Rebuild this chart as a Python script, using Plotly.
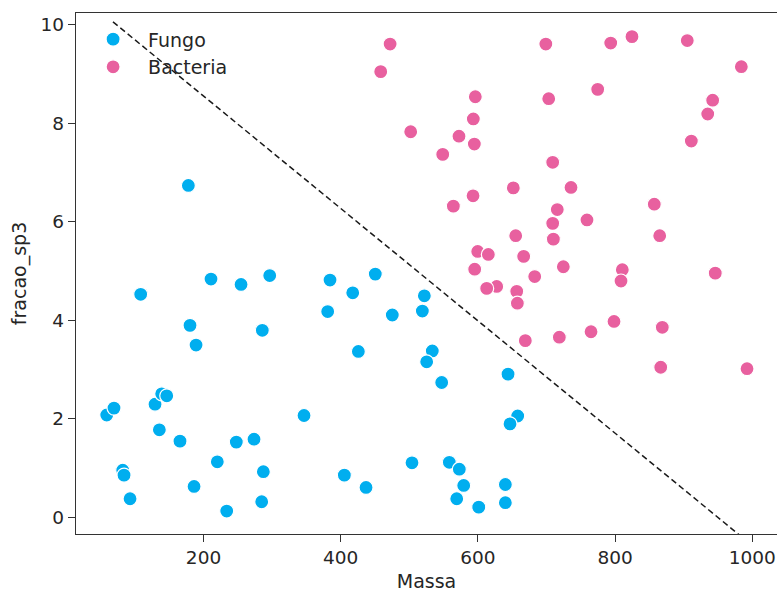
import plotly.graph_objects as go

# Fungo samples: mass vs sp3 fraction
fungo_massa = [58.9, 69.5, 82.2, 84.1, 92.9, 129.3, 139.0, 146.4, 135.6, 165.7,
               186.2, 220.1, 233.8, 247.8, 273.6, 287.2, 284.8, 346.5, 405.3, 436.9,
               177.9, 108.4, 210.9, 254.7, 296.5, 180.3, 189.1, 285.7, 384.4, 450.4,
               417.5, 381.0, 475.2, 521.9, 519.0, 425.7, 533.5, 525.3, 547.2, 643.9,
               658.0, 646.8, 503.9, 558.3, 572.9, 579.3, 569.1, 601.2, 640.0, 640.0]
fungo_sp3 = [2.08, 2.22, 0.96, 0.86, 0.38, 2.30, 2.51, 2.47, 1.78, 1.55,
             0.63, 1.13, 0.13, 1.53, 1.59, 0.93, 0.32, 2.07, 0.86, 0.61,
             6.74, 4.53, 4.84, 4.73, 4.91, 3.90, 3.50, 3.80, 4.82, 4.94,
             4.56, 4.18, 4.11, 4.50, 4.19, 3.37, 3.38, 3.16, 2.74, 2.91,
             2.06, 1.90, 1.11, 1.12, 0.98, 0.65, 0.38, 0.21, 0.67, 0.30]

# Bacteria samples
bact_massa = [472.0, 458.3, 502.0, 699.0, 793.6, 824.6, 905.2, 984.0, 774.6, 703.2,
              942.2, 935.0, 596.2, 593.3, 572.4, 594.8, 548.7, 911.1, 709.0, 651.6,
              735.7, 592.9, 564.2, 857.1, 715.7, 709.0, 759.0, 710.0, 655.1, 865.0,
              599.7, 615.2, 666.7, 595.3, 724.5, 682.8, 810.5, 808.6, 946.0, 627.4,
              612.8, 656.6, 657.5, 798.4, 764.9, 718.7, 669.1, 868.8, 866.5, 992.3]
bact_sp3 = [9.61, 9.05, 7.83, 9.61, 9.63, 9.76, 9.68, 9.15, 8.69, 8.50,
            8.47, 8.19, 8.54, 8.09, 7.74, 7.58, 7.37, 7.64, 7.21, 6.69,
            6.70, 6.53, 6.32, 6.36, 6.25, 5.97, 6.04, 5.65, 5.72, 5.72,
            5.40, 5.34, 5.30, 5.04, 5.09, 4.89, 5.03, 4.80, 4.96, 4.69,
            4.65, 4.59, 4.35, 3.98, 3.77, 3.66, 3.59, 3.86, 3.05, 3.02]

# Separating boundary (dashed)
fronteira_x = [68.0, 1000.0]
fronteira_y = [10.06, -0.57]

x_ticks = [200, 400, 600, 800, 1000]
y_ticks = [0, 2, 4, 6, 8, 10]

FONT = "DejaVu Sans"
TXT = "#262626"
AXIS = "#333333"

fig = go.Figure()

fig.add_trace(go.Scatter(
    x=fronteira_x, y=fronteira_y, mode="lines",
    line=dict(color="#1a1a1a", width=1.5, dash="6px,3.5px"),
    showlegend=False, hoverinfo="skip"))

fig.add_trace(go.Scatter(
    x=fungo_massa, y=fungo_sp3, mode="markers", name="Fungo",
    marker=dict(color="#00aeef", size=14, line=dict(color="white", width=1.2))))

fig.add_trace(go.Scatter(
    x=bact_massa, y=bact_sp3, mode="markers", name="Bacteria",
    marker=dict(color="#e8609f", size=14, line=dict(color="white", width=1.2))))

fig.update_layout(
    width=777, height=592,
    margin=dict(l=76, r=0, t=13, b=58),
    plot_bgcolor="white", paper_bgcolor="white",
    font=dict(family=FONT, size=18.5, color=TXT),
    legend=dict(x=0.003, y=0.986, xanchor="left", yanchor="top",
                bgcolor="rgba(0,0,0,0)", itemwidth=60,
                font=dict(family=FONT, size=19, color=TXT)),
    xaxis=dict(range=[14.1, 1036], tickvals=x_ticks, showgrid=False, zeroline=False,
               showline=True, linecolor=AXIS, linewidth=1.3, mirror=True,
               ticks="outside", ticklen=7, tickwidth=1.3, tickcolor=AXIS,
               tickfont=dict(family=FONT, size=18.5, color=TXT),
               title=dict(text="Massa", font=dict(family=FONT, size=19, color=TXT),
                          standoff=8)),
    yaxis=dict(range=[-0.335, 10.24], tickvals=y_ticks, showgrid=False, zeroline=False,
               showline=True, linecolor=AXIS, linewidth=1.3, mirror=False,
               ticks="outside", ticklen=7, tickwidth=1.3, tickcolor=AXIS,
               tickfont=dict(family=FONT, size=18.5, color=TXT),
               title=dict(text="fracao_sp3", font=dict(family=FONT, size=19, color=TXT),
                          standoff=8)),
)

fig.write_html("out.html")
